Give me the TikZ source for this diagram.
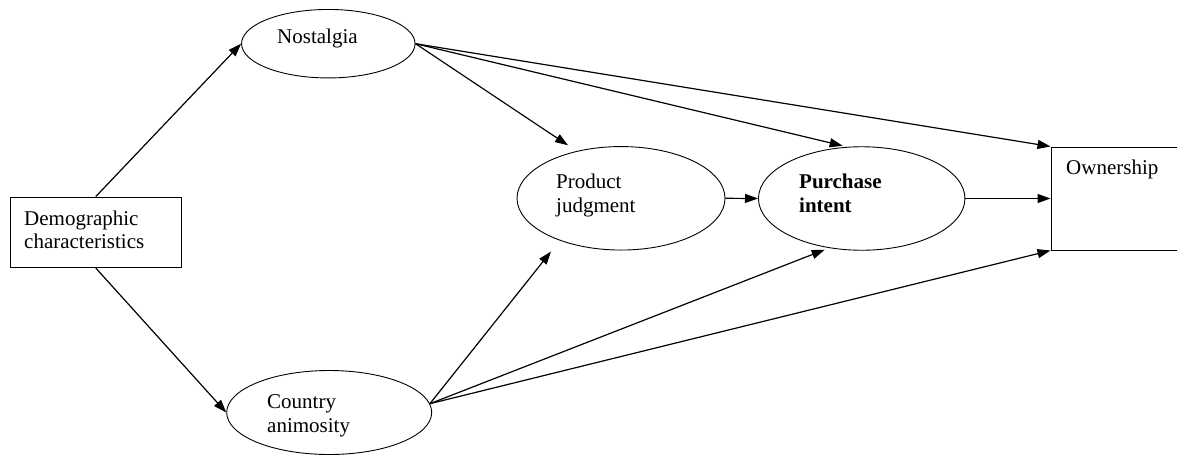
\documentclass[tikz,border=0pt]{standalone}
\usepackage{fontspec}
\setmainfont{Liberation Serif}
\usetikzlibrary{shapes.geometric,arrows.meta,calc}
\begin{document}
\begin{tikzpicture}[x=1pt,y=-1pt,
  ell/.style={draw, ellipse, line width=0.9pt, inner sep=0pt},
  boxn/.style={draw, rectangle, line width=1pt, inner sep=0pt},
  lbl/.style={anchor=base west, inner sep=0pt, font=\fontsize{21}{24}\selectfont},
  arr/.style={line width=1.2pt, -{Triangle[length=13pt,width=9pt]}}]
\useasboundingbox (0,0) rectangle (1177,455);
\node[boxn, minimum width=171.5pt, minimum height=70.5pt] (demo) at (95.8,232.3) {};
\node[ell, minimum width=173.5pt, minimum height=68.5pt] (nos) at (328.3,43.7) {};
\node[ell, minimum width=208pt, minimum height=103.5pt] (pj) at (621,198.3) {};
\node[ell, minimum width=206.5pt, minimum height=103.5pt] (pi) at (861.7,198.5) {};
\node[ell, minimum width=205pt, minimum height=84pt] (cty) at (329.2,412.5) {};
\node[boxn, minimum width=140pt, minimum height=103pt] (own) at (1121,198.5) {};

\node[lbl] (tdemo1) at (24,225.5) {Demographic};
\node[lbl] (tdemo2) at (24,248.5) {characteristics};
\node[lbl] (tnos) at (277,43) {Nostalgia};
\node[lbl] (tpj1) at (556,188) {Product};
\node[lbl] (tpj2) at (556,212.5) {judgment};
\node[lbl] (tpi1) at (799,188) {\bfseries Purchase};
\node[lbl] (tpi2) at (799,212.5) {\bfseries intent};
\node[lbl] (tcty1) at (267,408) {Country};
\node[lbl] (tcty2) at (267,432.5) {animosity};
\node[lbl] (town) at (1066,174) {Ownership};

\draw[arr] (demo.north) -- (nos.west);
\draw[arr] (demo.south) -- (cty.west);
\draw[arr] (nos.east) -- ($(pj.center)+(-53,-53)$);
\draw[arr] (nos.east) -- ($(pi.north)+(-19,-0.5)$);
\draw[arr] (nos.east) -- (own.north west);
\draw[arr] (pj.east) -- (pi.west);
\draw[arr] (pi.east) -- (own.west);
\draw[arr] (cty.5) -- ($(pj.south)+(-70,1)$);
\draw[arr] (cty.5) -- ($(pi.south)+(-37,-1)$);
\draw[arr] (cty.5) -- (own.south west);
\end{tikzpicture}
\end{document}
